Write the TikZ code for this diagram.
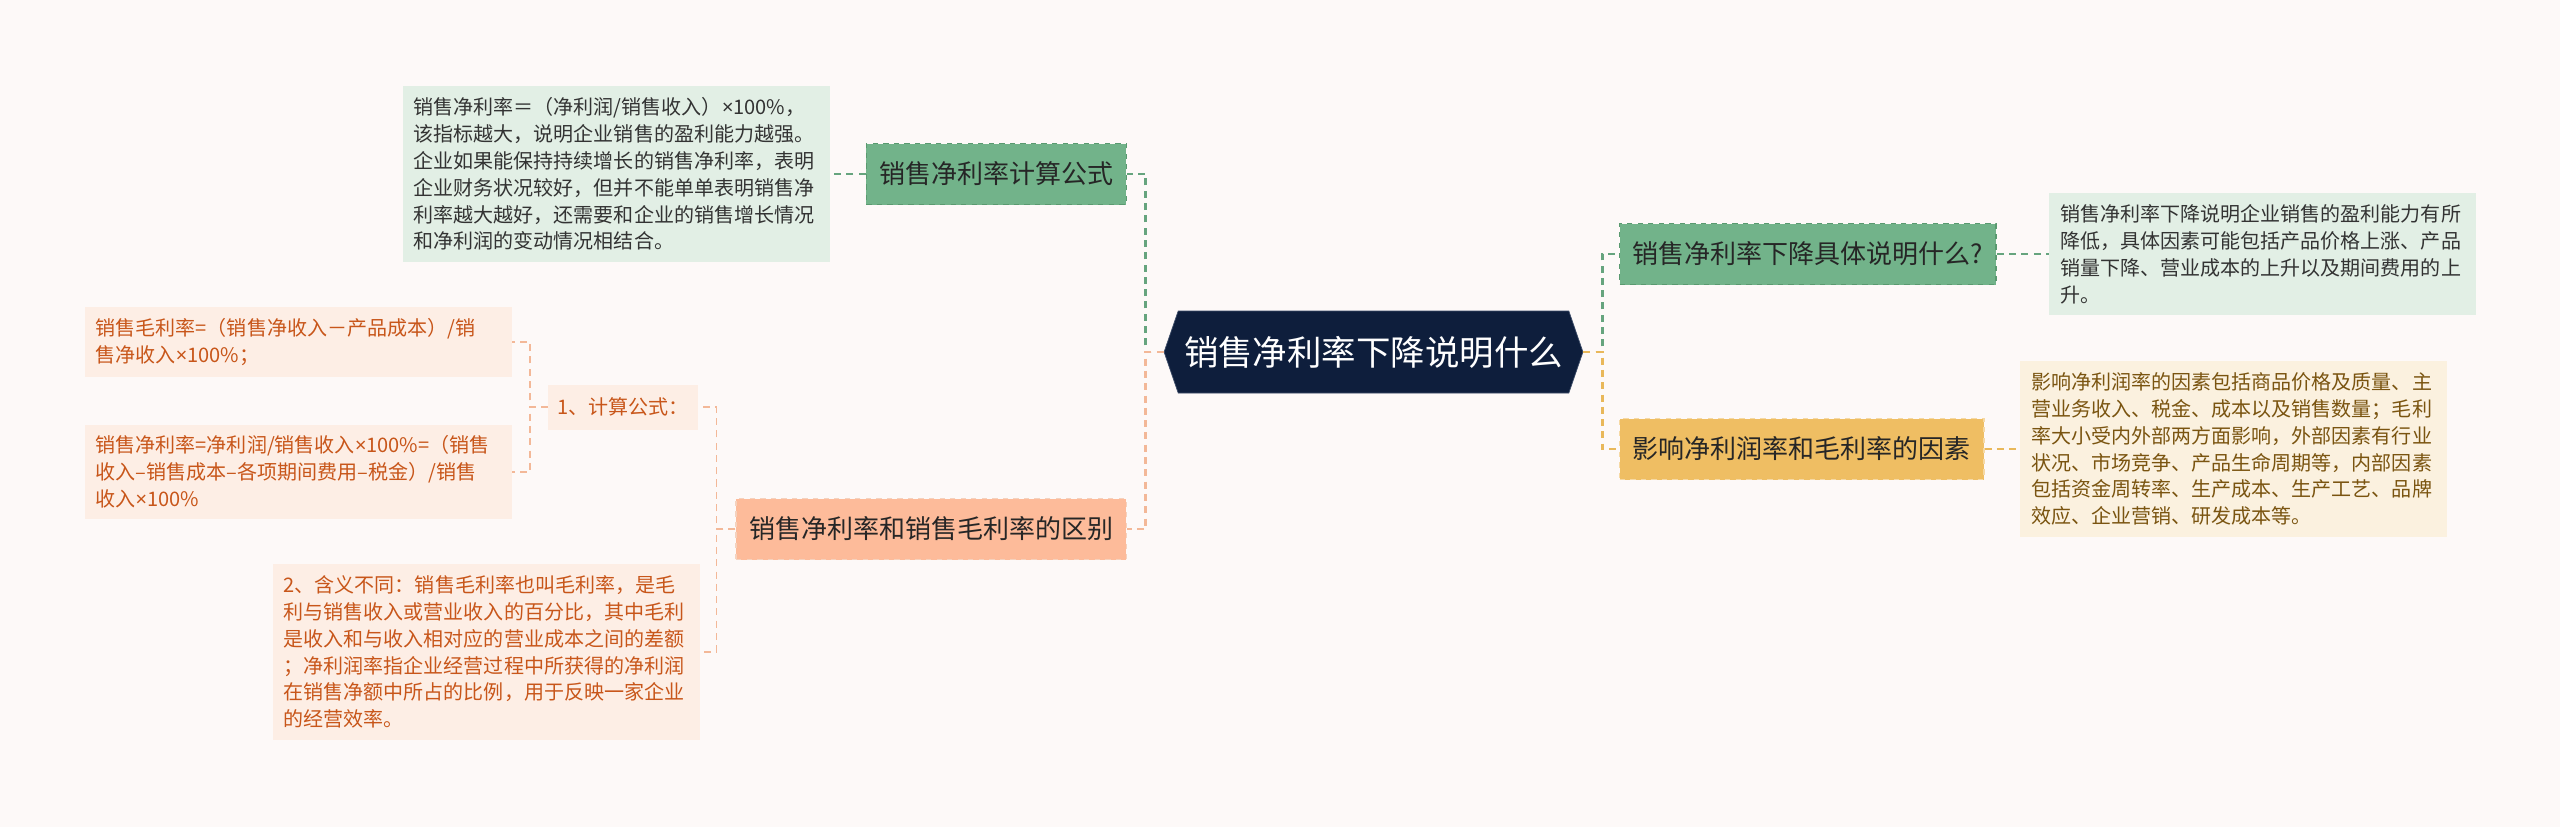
\documentclass[tikz,border=0pt]{standalone}
\usepackage{fontspec}
\setmainfont{Noto Sans CJK SC}
\newfontfamily\latinfont{Noto Sans}
\newcommand{\mul}{{\latinfont ×}}
\usetikzlibrary{shapes.symbols}

\definecolor{bgcol}{HTML}{FDF9F8}
\definecolor{navy}{HTML}{0E1E3C}
\definecolor{navyedge}{HTML}{3C4C68}
\definecolor{gfill}{HTML}{72B38A}
\definecolor{gedge}{HTML}{5A9A70}
\definecolor{gleaf}{HTML}{E2EFE5}
\definecolor{gline}{HTML}{66A47E}
\definecolor{ofill}{HTML}{FDBB9A}
\definecolor{oedge}{HTML}{F5D2BE}
\definecolor{oleaf}{HTML}{FDEEE5}
\definecolor{oline}{HTML}{F3B898}
\definecolor{otext}{HTML}{C8561A}
\definecolor{yfill}{HTML}{EFBE63}
\definecolor{yedge}{HTML}{F6D9A4}
\definecolor{yleaf}{HTML}{FBF1DF}
\definecolor{yline}{HTML}{E9B85A}
\definecolor{ytext}{HTML}{7A5410}

\begin{document}
\begin{tikzpicture}[
    root/.style={signal, signal to=west and east, signal pointer angle=142, fill=navy, draw=navyedge, text=white, minimum width=8.34cm, minimum height=1.64cm, font=\fontsize{19.6}{24}\selectfont},
    branch/.style={rectangle, dashed, line width=0.8pt, minimum height=1.22cm, inner xsep=0.26cm, text=black!85, font=\fontsize{14.8}{18}\selectfont},
    leaf/.style={rectangle, text width=8.1cm, align=left, inner xsep=0.22cm, inner ysep=0.22cm, font=\fontsize{11.4}{15.3}\selectfont},
    gconn/.style={draw=gline, dash pattern=on 4pt off 3pt, line width=1.5pt},
    oconn/.style={draw=oline, dash pattern=on 4pt off 3pt, line width=1.5pt},
    yconn/.style={draw=yline, dash pattern=on 4pt off 3pt, line width=1.5pt},
    othin/.style={draw=oline, dash pattern=on 4pt off 3pt, line width=0.9pt}
]

% Background
\fill[bgcol] (0,0) rectangle (51.2,-16.54);
\useasboundingbox (0,0) rectangle (51.2,-16.54);

% Root
\node[root] (root) at (27.47,-7.04) {销售净利率下降说明什么};

% Left upper branch
\node[branch, fill=gfill, draw=gedge, anchor=east] (formula) at (22.54,-3.48) {销售净利率计算公式};
\node[leaf, fill=gleaf, text=black!80, anchor=east] (formulatxt) at (16.6,-3.48) {销售净利率＝（净利润/销售收入）\mul100\%，\\该指标越大，说明企业销售的盈利能力越强。\\企业如果能保持持续增长的销售净利率，表明\\企业财务状况较好，但并不能单单表明销售净\\利率越大越好，还需要和企业的销售增长情况\\和净利润的变动情况相结合。};

% Left lower branch
\node[branch, fill=ofill, draw=oedge, anchor=east] (diff) at (22.54,-10.58) {销售净利率和销售毛利率的区别};
\node[rectangle, fill=oleaf, text=otext, minimum height=0.9cm, inner xsep=0.18cm, font=\fontsize{11.4}{15.3}\selectfont, anchor=east] (calc) at (13.96,-8.14) {1、计算公式：};
\node[leaf, fill=oleaf, text=otext, anchor=east] (gross) at (10.24,-6.84) {销售毛利率=（销售净收入－产品成本）/销\\售净收入\mul100\%；};
\node[leaf, fill=oleaf, text=otext, anchor=east] (net) at (10.24,-9.44) {销售净利率=净利润/销售收入\mul100\%=（销售\\收入–销售成本–各项期间费用–税金）/销售\\收入\mul100\%};
\node[leaf, fill=oleaf, text=otext, anchor=east] (meaning) at (14.0,-13.04) {2、含义不同：销售毛利率也叫毛利率，是毛\\利与销售收入或营业收入的百分比，其中毛利\\是收入和与收入相对应的营业成本之间的差额\\；净利润率指企业经营过程中所获得的净利润\\在销售净额中所占的比例，用于反映一家企业\\的经营效率。};

% Right upper branch
\node[branch, fill=gfill, draw=gedge, anchor=west] (drop) at (32.38,-5.08) {销售净利率下降具体说明什么?};
\node[leaf, fill=gleaf, text=black!80, anchor=west] (droptxt) at (40.98,-5.08) {销售净利率下降说明企业销售的盈利能力有所\\降低，具体因素可能包括产品价格上涨、产品\\销量下降、营业成本的上升以及期间费用的上\\升。};

% Right lower branch
\node[branch, fill=yfill, draw=yedge, anchor=west] (factor) at (32.38,-8.98) {影响净利润率和毛利率的因素};
\node[leaf, fill=yleaf, text=ytext, anchor=west] (factortxt) at (40.4,-8.98) {影响净利润率的因素包括商品价格及质量、主\\营业务收入、税金、成本以及销售数量；毛利\\率大小受内外部两方面影响，外部因素有行业\\状况、市场竞争、产品生命周期等，内部因素\\包括资金周转率、生产成本、生产工艺、品牌\\效应、企业营销、研发成本等。};

% Connections: root to branches
\draw[gconn] (root.west) -- ++(-0.36,0) |- (formula.east);
\draw[oconn] (root.west) -- ++(-0.36,0) |- (diff.east);
\draw[gconn] (root.east) -- ++(0.38,0) |- (drop.west);
\draw[yconn] (root.east) -- ++(0.38,0) |- (factor.west);

% Connections: branches to texts
\draw[gconn] (formula.west) -- (formulatxt.east);
\draw[gconn] (drop.east) -- (droptxt.west);
\draw[yconn] (factor.east) -- (factortxt.west);
\draw[othin] (diff.west) -- ++(-0.38,0) |- (calc.east);
\draw[othin] (diff.west) -- ++(-0.38,0) |- (meaning.east);
\draw[othin] (calc.west) -- ++(-0.36,0) |- (gross.east);
\draw[othin] (calc.west) -- ++(-0.36,0) |- (net.east);

\end{tikzpicture}
\end{document}
